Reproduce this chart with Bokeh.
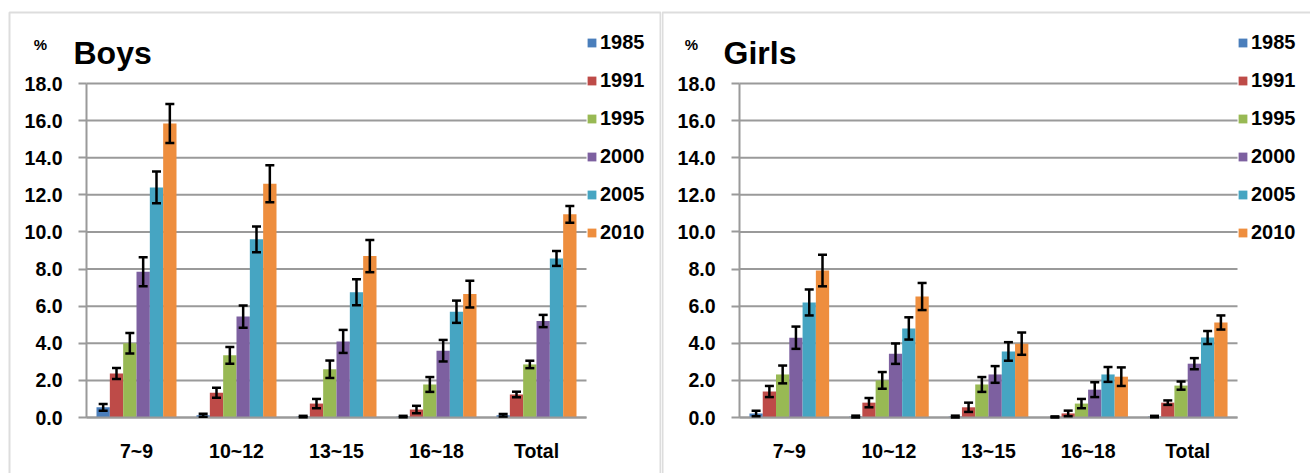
from bokeh.plotting import figure
from bokeh.models import (Range1d, FixedTicker, PrintfTickFormatter, Whisker, LinearAxis,
                          TeeHead, ColumnDataSource, Label, BoxAnnotation, Legend, LegendItem)
from bokeh.transform import dodge
from bokeh.layouts import row
from bokeh.embed import file_html
from bokeh.resources import INLINE

categories = ["7~9", "10~12", "13~15", "16~18", "Total"]
years = ["1985", "1991", "1995", "2000", "2005", "2010"]
y_ticks = [0, 2, 4, 6, 8, 10, 12, 14, 16, 18]

# Boys prevalence (%) and error half-widths
boys_1985 = [0.55, 0.12, 0.05, 0.05, 0.12]
boys_1991 = [2.37, 1.33, 0.75, 0.43, 1.24]
boys_1995 = [4.00, 3.35, 2.60, 1.78, 2.86]
boys_2000 = [7.85, 5.44, 4.10, 3.60, 5.20]
boys_2005 = [12.40, 9.60, 6.75, 5.70, 8.57]
boys_2010 = [15.84, 12.60, 8.70, 6.65, 10.95]
boys_1985_err = [0.18, 0.08, 0.04, 0.04, 0.07]
boys_1991_err = [0.30, 0.27, 0.25, 0.20, 0.15]
boys_1995_err = [0.55, 0.45, 0.47, 0.40, 0.20]
boys_2000_err = [0.78, 0.60, 0.62, 0.58, 0.33]
boys_2005_err = [0.86, 0.70, 0.70, 0.60, 0.40]
boys_2010_err = [1.05, 1.00, 0.87, 0.72, 0.45]

# Girls prevalence (%) and error half-widths
girls_1985 = [0.22, 0.05, 0.05, 0.03, 0.05]
girls_1991 = [1.40, 0.80, 0.55, 0.22, 0.80]
girls_1995 = [2.32, 2.00, 1.78, 0.75, 1.72]
girls_2000 = [4.30, 3.44, 2.32, 1.50, 2.90]
girls_2005 = [6.20, 4.80, 3.56, 2.32, 4.31]
girls_2010 = [7.92, 6.52, 3.98, 2.20, 5.12]
girls_1985_err = [0.15, 0.05, 0.05, 0.03, 0.04]
girls_1991_err = [0.30, 0.25, 0.25, 0.15, 0.12]
girls_1995_err = [0.48, 0.45, 0.40, 0.25, 0.22]
girls_2000_err = [0.60, 0.55, 0.45, 0.40, 0.30]
girls_2005_err = [0.70, 0.60, 0.50, 0.40, 0.35]
girls_2010_err = [0.85, 0.73, 0.60, 0.50, 0.38]

colors = ["#4A7EBB", "#BE4B48", "#98B954", "#7D60A0", "#46A5C2", "#EE8E3E"]

FONT = "Liberation Sans"
GRID = "#9a9a9a"
H = 473          # figure height (px)
PLOT_TOP = 83    # pixel row of the 18.0 gridline
PLOT_BOT = 417   # pixel row of the 0.0 axis


def make_panel(title, series, errs, width, plot_left, unit_px, pct_dx, title_dx,
               border_left, border_right):
    ypx = (PLOT_BOT - PLOT_TOP) / 18.0
    x_start = -plot_left / unit_px
    x_end = (width - plot_left) / unit_px
    y_start = -(H - PLOT_BOT) / ypx
    y_end = PLOT_BOT / ypx
    p = figure(x_range=Range1d(x_start, x_end), y_range=Range1d(y_start, y_end),
               width=width, height=H, output_backend="svg", toolbar_location=None,
               title_location=None, x_axis_location=None, y_axis_location=None,
               min_border=0)
    p.outline_line_color = None
    p.background_fill_color = "white"
    p.border_fill_color = "white"
    p.xgrid.visible = False
    p.ygrid.visible = False

    ncat = len(categories)
    centers = [i + 0.5 for i in range(ncat)]

    # horizontal gridlines across the plot area
    p.segment(x0=[0] * len(y_ticks), x1=[ncat] * len(y_ticks), y0=y_ticks, y1=y_ticks,
              line_color=GRID, line_width=2)

    ya = LinearAxis(fixed_location=0, bounds=(0, 18))
    ya.ticker = FixedTicker(ticks=y_ticks)
    ya.formatter = PrintfTickFormatter(format="%.1f")
    ya.axis_line_color = GRID
    ya.axis_line_width = 2
    ya.major_tick_line_color = GRID
    ya.major_tick_line_width = 2
    ya.major_tick_out = 8
    ya.major_tick_in = 0
    ya.minor_tick_line_color = None
    ya.major_label_standoff = 16
    ya.major_label_text_font = FONT
    ya.major_label_text_font_style = "bold"
    ya.major_label_text_font_size = "19.5px"
    ya.major_label_text_color = "black"
    p.add_layout(ya, "left")

    xa = LinearAxis(fixed_location=0, bounds=(0, ncat))
    xa.ticker = FixedTicker(ticks=centers)
    xa.major_label_overrides = {c: cat for c, cat in zip(centers, categories)}
    xa.axis_line_color = GRID
    xa.axis_line_width = 2
    xa.major_tick_line_color = None
    xa.minor_tick_line_color = None
    xa.major_tick_out = 0
    xa.major_tick_in = 0
    xa.major_label_standoff = 22
    xa.major_label_text_font = FONT
    xa.major_label_text_font_style = "bold"
    xa.major_label_text_font_size = "19.5px"
    xa.major_label_text_color = "black"
    p.add_layout(xa, "below")

    n = len(years)
    bw = 0.8 / n
    items = []
    for i, yr in enumerate(years):
        vals = series[i]
        er = errs[i]
        src = ColumnDataSource(dict(x=centers, top=vals,
                                    upper=[v + e for v, e in zip(vals, er)],
                                    lower=[max(v - e, 0) for v, e in zip(vals, er)]))
        off = (i - (n - 1) / 2) * bw
        r = p.vbar(x=dodge("x", off), top="top", width=bw, source=src,
                   fill_color=colors[i], line_color=None)
        items.append(LegendItem(label=yr, renderers=[r]))
        w = Whisker(base=dodge("x", off), upper="upper", lower="lower",
                    source=src, line_color="black", line_width=2.5, level="overlay",
                    upper_head=TeeHead(size=9, line_color="black", line_width=2.5),
                    lower_head=TeeHead(size=9, line_color="black", line_width=2.5))
        p.add_layout(w)

    legend = Legend(items=items, location=(plot_left + ncat * unit_px, H - 244),
                    padding=0, margin=0,
                    border_line_color=None, background_fill_alpha=0,
                    glyph_width=11, glyph_height=11, label_standoff=3,
                    spacing=15, label_height=22,
                    label_text_font=FONT, label_text_font_style="bold",
                    label_text_font_size="20px", label_text_color="black")
    p.add_layout(legend)

    p.add_layout(Label(x=0, y=18, x_offset=pct_dx, y_offset=39, text="%",
                       text_font=FONT, text_font_style="bold", text_font_size="15px",
                       text_align="center", text_baseline="middle", text_color="black"))
    p.add_layout(Label(x=0, y=18, x_offset=title_dx, y_offset=31, text=title,
                       text_font=FONT, text_font_style="bold", text_font_size="32px",
                       text_align="left", text_baseline="alphabetic", text_color="black"))

    # panel border (top, left, right edges)
    box = BoxAnnotation(left=x_start + border_left / unit_px,
                        right=x_start + border_right / unit_px,
                        top=y_end - 12 / ypx, bottom=y_start - 5,
                        fill_color=None, fill_alpha=0, line_color="#8f8f8f", line_width=2,
                        level="underlay")
    p.add_layout(box)
    return p


boys_series = [boys_1985, boys_1991, boys_1995, boys_2000, boys_2005, boys_2010]
boys_errs = [boys_1985_err, boys_1991_err, boys_1995_err, boys_2000_err, boys_2005_err, boys_2010_err]
girls_series = [girls_1985, girls_1991, girls_1995, girls_2000, girls_2005, girls_2010]
girls_errs = [girls_1985_err, girls_1991_err, girls_1995_err, girls_2000_err, girls_2005_err, girls_2010_err]

p1 = make_panel("Boys", boys_series, boys_errs, width=661, plot_left=86, unit_px=100.0,
                pct_dx=-46, title_dx=-13, border_left=9, border_right=660)
p2 = make_panel("Girls", girls_series, girls_errs, width=649, plot_left=78, unit_px=99.6,
                pct_dx=-48, title_dx=-16, border_left=1, border_right=700)

layout = row(p1, p2, spacing=0)
open("out.html", "w").write(file_html(layout, INLINE))
